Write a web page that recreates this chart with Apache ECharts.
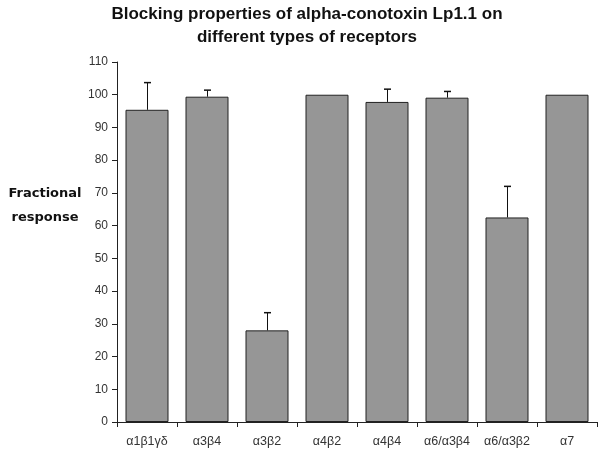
<!DOCTYPE html>
<html>
<head>
<meta charset="utf-8">
<script src="https://cdn.jsdelivr.net/npm/echarts@6/dist/echarts.min.js"></script>
<style>html,body{margin:0;padding:0;background:#fff}#c{width:604px;height:453px}</style>
</head>
<body>
<div id="c"></div>
<script>
var categories = ['α1β1γδ', 'α3β4', 'α3β2', 'α4β2', 'α4β4', 'α6/α3β4', 'α6/α3β2', 'α7'];
var values = [95.4, 99.4, 28.0, 100, 97.8, 99.1, 62.5, 100];
var errors = [8.3, 2.0, 5.4, 0, 3.9, 1.9, 9.5, 0];
var yTicks = [0, 10, 20, 30, 40, 50, 60, 70, 80, 90, 100, 110];

var chart = echarts.init(document.getElementById('c'));
var errData = categories.map(function (c, i) { return [i, values[i], values[i] + errors[i]]; });
chart.setOption({
  animation: false,
  grid: { left: 117, right: 7, top: 62, bottom: 31 },
  graphic: [
    { type: 'text', x: 307, y: 14, style: { text: 'Blocking properties of alpha-conotoxin Lp1.1 on', font: 'bold 17px "Liberation Sans", Arial, sans-serif', fill: '#111', align: 'center', verticalAlign: 'middle' } },
    { type: 'text', x: 307, y: 37, style: { text: 'different types of receptors', font: 'bold 17px "Liberation Sans", Arial, sans-serif', fill: '#111', align: 'center', verticalAlign: 'middle' } },
    { type: 'text', x: 45, y: 194, style: { text: 'Fractional', font: 'bold 13px "DejaVu Sans", Verdana, sans-serif', fill: '#111', align: 'center', verticalAlign: 'middle' } },
    { type: 'text', x: 45, y: 218, style: { text: 'response', font: 'bold 13px "DejaVu Sans", Verdana, sans-serif', fill: '#111', align: 'center', verticalAlign: 'middle' } }
  ],
  xAxis: {
    type: 'category',
    data: categories,
    axisLine: { lineStyle: { color: '#222', width: 1 } },
    axisTick: { show: true, alignWithLabel: false, length: 5, lineStyle: { color: '#222' } },
    axisLabel: { color: '#333', fontSize: 12.5, fontFamily: '"Liberation Sans", Arial, sans-serif', margin: 13 },
    splitLine: { show: false }
  },
  yAxis: {
    type: 'value',
    min: 0, max: 110, interval: 10,
    axisLine: { show: true, lineStyle: { color: '#222', width: 1 } },
    axisTick: { show: true, length: 5, lineStyle: { color: '#222' } },
    axisLabel: { color: '#333', fontSize: 12, fontFamily: '"Liberation Sans", Arial, sans-serif', margin: 9,
      formatter: function (v) { return yTicks.indexOf(v) >= 0 ? String(v) : ''; } },
    splitLine: { show: false }
  },
  series: [
    {
      type: 'bar',
      data: values,
      barWidth: 43,
      itemStyle: { color: '#969696', borderColor: '#222', borderWidth: 1 }
    },
    {
      type: 'custom',
      data: errData,
      z: 10,
      renderItem: function (params, api) {
        var e = api.value(2);
        var v = api.value(1);
        if (e - v <= 0) return null;
        var lo = api.coord([api.value(0), v]);
        var hi = api.coord([api.value(0), e]);
        var x = Math.round(lo[0]) + 0.5;
        return {
          type: 'group',
          children: [
            { type: 'line', shape: { x1: x, y1: lo[1], x2: x, y2: hi[1] }, style: { stroke: '#111', lineWidth: 1 } },
            { type: 'line', shape: { x1: x - 3.5, y1: hi[1], x2: x + 3.5, y2: hi[1] }, style: { stroke: '#111', lineWidth: 1.5 } }
          ]
        };
      }
    }
  ]
});
</script>
</body>
</html>
